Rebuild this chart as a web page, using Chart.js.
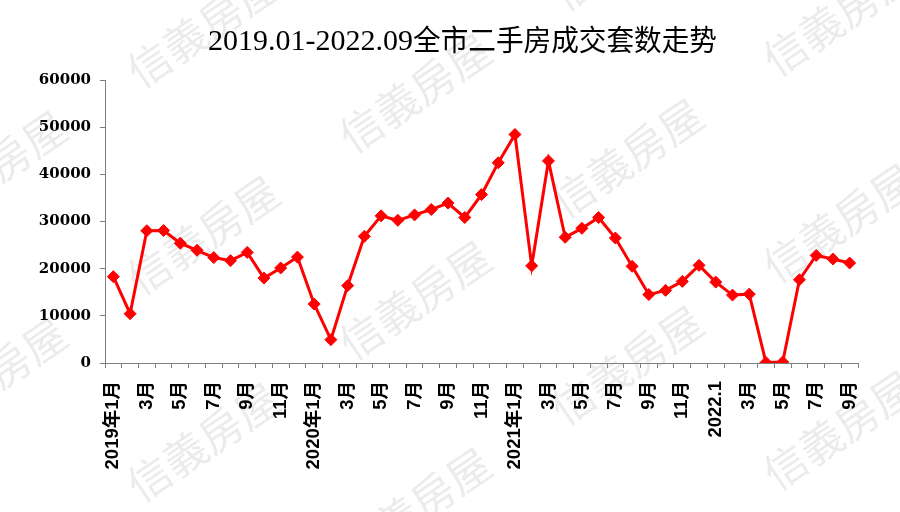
<!DOCTYPE html>
<html>
<head>
<meta charset="utf-8">
<script src="https://cdn.jsdelivr.net/npm/chart.js@4/dist/chart.umd.min.js"></script>
<style>
  html, body { margin: 0; padding: 0; background: #fff; }
  #wrap { width: 900px; height: 512px; }
</style>
</head>
<body>
<div id="wrap"><canvas id="chart" width="900" height="512"></canvas></div>
<script>
// 数据
const monthLabels = [
  '2019年1月', '', '3月', '', '5月', '', '7月', '', '9月', '', '11月', '',
  '2020年1月', '', '3月', '', '5月', '', '7月', '', '9月', '', '11月', '',
  '2021年1月', '', '3月', '', '5月', '', '7月', '', '9月', '', '11月', '',
  '2022.1', '', '3月', '', '5月', '', '7月', '', '9月'
];
const dealCounts = [
  18300, 10450, 28050, 28100, 25400, 23900, 22350, 21700, 23450, 18000, 20150, 22450,
  12500, 4950, 16400, 26850, 31200, 30250, 31400, 32550, 33900, 30850, 35700, 42450,
  48450, 20600, 42850, 26650, 28550, 30850, 26500, 20500, 14500, 15400, 17300, 20700,
  17150, 14400, 14600, 100, 200, 17650, 22800, 22050, 21200
];
const yTicks = [0, 10000, 20000, 30000, 40000, 50000, 60000];
const titleDates = '2019.01-2022.09';
const titleText = '全市二手房成交套数走势';
const watermarkText = '信義房屋';

// 背景 + 水印
const watermarkPlugin = {
  id: 'watermark',
  beforeDraw(chart) {
    const ctx = chart.ctx;
    ctx.save();
    ctx.fillStyle = '#ffffff';
    ctx.fillRect(0, 0, chart.width, chart.height);
    ctx.fillStyle = 'rgba(0,0,0,0.08)';
    ctx.font = '43px "Noto Sans CJK TC"';
    ctx.textAlign = 'center';
    ctx.textBaseline = 'middle';
    for (let i = -1; i <= 4; i++) {
      for (let j = -3; j <= 2; j++) {
        const cx = 203 + i * 212;
        const cy = 235 + i * 65 + j * 207;
        if (cx < -120 || cx > 1020 || cy < -120 || cy > 640) continue;
        ctx.save();
        ctx.translate(cx, cy);
        ctx.rotate(-34 * Math.PI / 180);
        ctx.fillText(watermarkText, 0, 0);
        ctx.restore();
      }
    }
    ctx.restore();
  },
  // 标题 (日期部分 + 中文部分)
  afterDraw(chart) {
    const ctx = chart.ctx;
    ctx.save();
    ctx.fillStyle = '#000';
    ctx.textAlign = 'left';
    ctx.textBaseline = 'alphabetic';
    ctx.font = '30px "Liberation Serif"';
    ctx.fillText(titleDates, 208, 50);
    const w = ctx.measureText(titleDates).width;
    ctx.font = '29px "Noto Sans CJK SC"';
    const cw = ctx.measureText(titleText).width;
    ctx.save();
    ctx.translate(208 + w, 0);
    ctx.scale(304 / cw, 1);
    ctx.fillText(titleText, 0, 51);
    ctx.restore();
    ctx.restore();
  }
};

const ctx = document.getElementById('chart');
new Chart(ctx, {
  type: 'line',
  data: {
    labels: monthLabels,
    datasets: [{
      data: dealCounts,
      borderColor: '#ff0000',
      backgroundColor: '#ff0000',
      borderWidth: 3,
      tension: 0,
      pointStyle: 'rectRot',
      pointRadius: 6,
      pointBorderWidth: 1,
      pointBackgroundColor: '#ff0000',
      pointBorderColor: '#ff0000'
    }]
  },
  options: {
    responsive: false,
    animation: false,
    layout: { padding: { top: 80, right: 42, left: 0, bottom: 0 } },
    plugins: {
      legend: { display: false },
      tooltip: { enabled: false },
      title: { display: false }
    },
    scales: {
      x: {
        offset: true,
        grid: {
          display: true,
          offset: true,
          drawOnChartArea: false,
          drawTicks: true,
          tickLength: 5,
          color: '#808080'
        },
        border: { color: '#808080', width: 1 },
        ticks: {
          autoSkip: false,
          maxRotation: 90,
          minRotation: 90,
          padding: 13,
          color: '#000',
          font: { family: '"Liberation Sans", "Noto Sans CJK SC"', size: 18.5, weight: 'bold' }
        },
        afterFit(scale) { scale.height = 149; }
      },
      y: {
        min: 0,
        max: 60000,
        afterBuildTicks(scale) { scale.ticks = yTicks.map(v => ({ value: v })); },
        grid: {
          display: true,
          drawOnChartArea: false,
          drawTicks: true,
          tickLength: 5,
          color: '#808080'
        },
        border: { color: '#808080', width: 1 },
        ticks: {
          padding: 9,
          color: '#000',
          font: { family: '"DejaVu Serif"', size: 15, weight: 'bold' },
          callback: v => String(v)
        },
        afterFit(scale) { scale.width = 105; }
      }
    }
  },
  plugins: [watermarkPlugin]
});
</script>
</body>
</html>
